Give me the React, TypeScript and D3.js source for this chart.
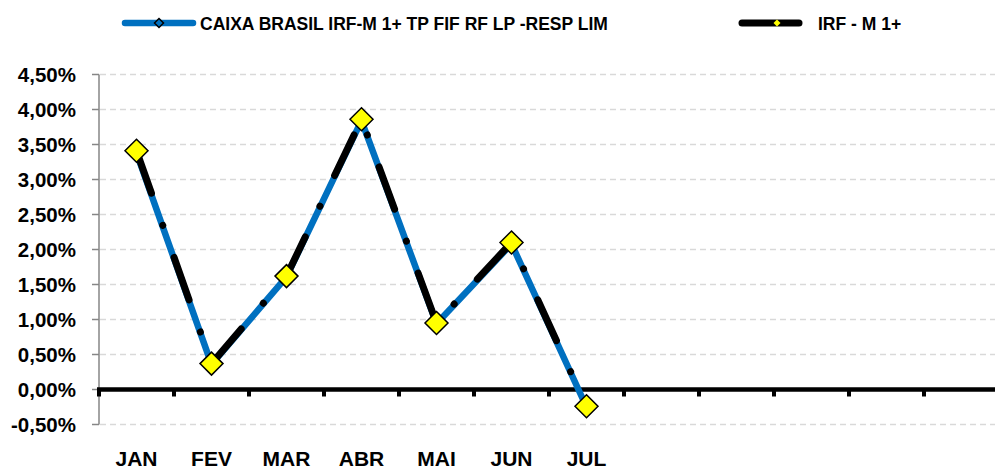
import React from "react";
import * as d3 from "d3";

const categories = ["JAN", "FEV", "MAR", "ABR", "MAI", "JUN", "JUL", "AGO", "SET", "OUT", "NOV", "DEZ"];
const monthLabels = ["JAN", "FEV", "MAR", "ABR", "MAI", "JUN", "JUL"];
const fundValues = [3.38, 0.36, 1.61, 3.84, 0.94, 2.08, -0.25];
const indexValues = [3.41, 0.37, 1.62, 3.86, 0.95, 2.1, -0.24];
const yTicks = [-0.5, 0, 0.5, 1, 1.5, 2, 2.5, 3, 3.5, 4, 4.5];
const seriesNames = ["CAIXA BRASIL IRF-M 1+ TP FIF RF LP -RESP LIM", "IRF - M 1+"];

const W = 995;
const H = 470;
const FONT = "'Liberation Sans', Arial, sans-serif";

export default function App() {
  const x = d3.scaleBand<string>().domain(categories).range([99, 999]).paddingInner(0).paddingOuter(0);
  const y = d3.scaleLinear().domain([-0.5, 4.5]).range([424.5, 74.5]);
  const cx = (i: number) => (x(categories[i]) as number) + x.bandwidth() / 2;
  const line = d3
    .line<number>()
    .x((_, i) => cx(i))
    .y((v) => y(v));
  const fmt = (v: number) => v.toFixed(2).replace(".", ",") + "%";
  const diamond = (px: number, py: number, r: number) =>
    `M${px},${py - r}L${px + r},${py}L${px},${py + r}L${px - r},${py}Z`;

  return (
    <svg width={W} height={H} style={{ position: "absolute", left: 0, top: 0, background: "#fff" }}>
      {/* legend */}
      <line x1={125} x2={193} y1={23} y2={23} stroke="#0070C0" strokeWidth={6.5} strokeLinecap="round" />
      <path d={diamond(159, 23, 4.5)} fill="#0070C0" stroke="#000" strokeWidth={1.5} />
      <text x={200} y={29.5} fontFamily={FONT} fontWeight="bold" fontSize={17.5} fill="#000">
        {seriesNames[0]}
      </text>
      <line x1={742} x2={799} y1={23} y2={23} stroke="#000" strokeWidth={7} strokeLinecap="round" />
      <path d={diamond(777, 23, 3.5)} fill="#FFFF00" stroke="none" />
      <text x={818} y={29.5} fontFamily={FONT} fontWeight="bold" fontSize={17.5} fill="#000">
        {seriesNames[1]}
      </text>

      {/* gridlines */}
      {yTicks.map((t) =>
        t === 0 ? null : (
          <line key={"g" + t} x1={100} x2={W} y1={y(t)} y2={y(t)} stroke="#D9D9D9" strokeWidth={1.5} strokeDasharray="6 4" />
        )
      )}
      {/* y axis */}
      <line x1={99} x2={99} y1={y(4.5)} y2={y(-0.5)} stroke="#868686" strokeWidth={1.5} />
      {yTicks.map((t) => (
        <g key={"y" + t}>
          <line x1={92} x2={99} y1={y(t)} y2={y(t)} stroke="#868686" strokeWidth={1.5} />
          <text x={76} y={y(t)} dy="0.36em" textAnchor="end" fontFamily={FONT} fontWeight="bold" fontSize={20.5} fill="#000">
            {fmt(t)}
          </text>
        </g>
      ))}
      {/* x axis */}
      <line x1={97} x2={W} y1={y(0)} y2={y(0)} stroke="#000" strokeWidth={4.5} />
      {categories.map((c) => (
        <line key={"t" + c} x1={x(c) as number} x2={x(c) as number} y1={y(0)} y2={y(0) + 7} stroke="#000" strokeWidth={4} />
      ))}
      {monthLabels.map((m, i) => (
        <text key={"x" + m} x={cx(i)} y={466} textAnchor="middle" fontFamily={FONT} fontWeight="bold" fontSize={21} fill="#000">
          {m}
        </text>
      ))}

      {/* series */}
      <path d={line(fundValues) || ""} fill="none" stroke="#0070C0" strokeWidth={6.5} strokeLinejoin="round" />
      <path
        d={line(indexValues) || ""}
        fill="none"
        stroke="#000"
        strokeWidth={7}
        strokeLinecap="round"
        strokeLinejoin="round"
        strokeDasharray="45 34 0.1 34"
      />
      {indexValues.map((v, i) => (
        <path key={"m" + i} d={diamond(cx(i), y(v), 11.5)} fill="#FFFF00" stroke="#000" strokeWidth={1.5} />
      ))}
    </svg>
  );
}
